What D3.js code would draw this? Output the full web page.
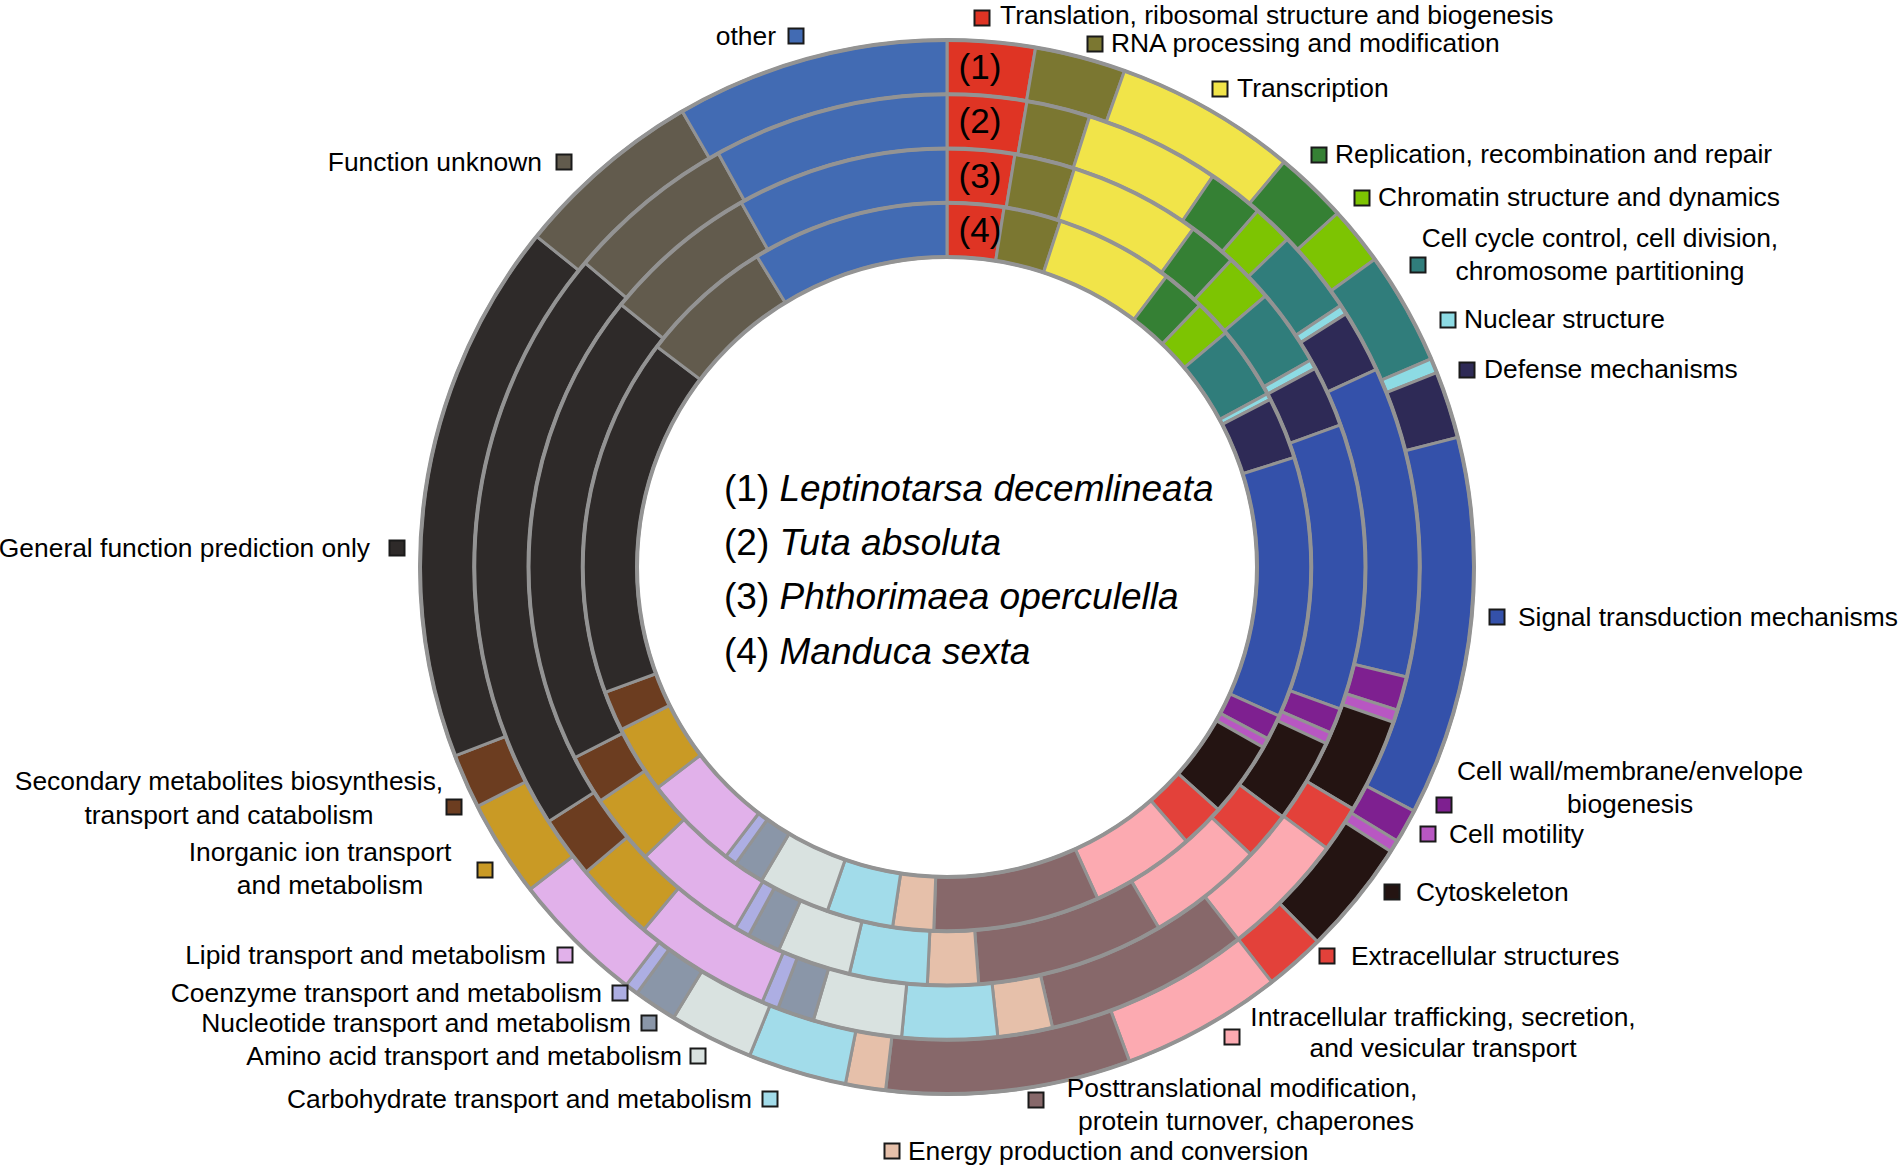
<!DOCTYPE html>
<html>
<head>
<meta charset="utf-8">
<script src="https://cdn.jsdelivr.net/npm/d3@7"></script>
<style>
  html, body { margin: 0; padding: 0; background: #ffffff; }
  svg { display: block; }
  text { font-family: "Liberation Sans", Arial, Helvetica, sans-serif; fill: #000; }
</style>
</head>
<body>
<svg id="chart" width="1898" height="1167"></svg>
<script>
// ---------------- DATA ----------------
const categories = [
  "Translation, ribosomal structure and biogenesis",
  "RNA processing and modification",
  "Transcription",
  "Replication, recombination and repair",
  "Chromatin structure and dynamics",
  "Cell cycle control, cell division, chromosome partitioning",
  "Nuclear structure",
  "Defense mechanisms",
  "Signal transduction mechanisms",
  "Cell wall/membrane/envelope biogenesis",
  "Cell motility",
  "Cytoskeleton",
  "Extracellular structures",
  "Intracellular trafficking, secretion, and vesicular transport",
  "Posttranslational modification, protein turnover, chaperones",
  "Energy production and conversion",
  "Carbohydrate transport and metabolism",
  "Amino acid transport and metabolism",
  "Nucleotide transport and metabolism",
  "Coenzyme transport and metabolism",
  "Lipid transport and metabolism",
  "Inorganic ion transport and metabolism",
  "Secondary metabolites biosynthesis, transport and catabolism",
  "General function prediction only",
  "Function unknown",
  "other"
];

const colors = [
  "#df3424", "#7b7731", "#f1e449", "#358034", "#7dc402", "#307d7b",
  "#8ddbe4", "#2e2a56", "#3451aa", "#7e2090", "#b857c2", "#241412",
  "#e3413a", "#fcaab1", "#87686a", "#e6c0aa", "#a2dcea", "#d9e2e0",
  "#8a96a8", "#adaee3", "#e1b1ea", "#c99a25", "#6c3d20", "#2e2a29",
  "#625b4d", "#426bb3"
];

const species = ["Leptinotarsa decemlineata", "Tuta absoluta", "Phthorimaea operculella", "Manduca sexta"];
const ringTags = ["(1)", "(2)", "(3)", "(4)"];

// percentage of annotated genes per COG category
const leptinotarsa = [2.69, 2.78, 5.58, 2.24, 1.79, 3.46, 0.45, 2.06, 11.62, 1.04, 0.37, 3.52, 1.84,
                      4.94, 7.49, 1.23, 3.02, 2.57, 1.33, 0.41, 4.11, 2.97, 1.67, 16.63, 5.83, 8.38];
const tuta         = [2.71, 2.17, 4.63, 1.91, 1.38, 2.87, 0.33, 2.14, 10.60, 1.16, 0.43, 3.23, 1.59,
                      4.29, 6.98, 1.87, 3.25, 3.03, 1.26, 0.57, 4.69, 2.75, 2.12, 20.17, 5.84, 8.04];
const phthorimaea  = [2.60, 2.33, 5.09, 1.87, 1.89, 2.99, 0.36, 2.36, 11.03, 0.98, 0.44, 3.25, 1.88,
                      4.49, 7.24, 1.96, 3.00, 2.84, 1.27, 0.58, 4.39, 2.73, 1.91, 18.33, 6.03, 8.18];
const manduca      = [2.51, 2.53, 5.26, 1.92, 1.66, 3.23, 0.28, 2.75, 11.58, 1.11, 0.43, 3.36, 1.97,
                      4.63, 7.37, 1.81, 2.94, 3.18, 1.34, 0.54, 4.24, 3.01, 1.77, 15.94, 5.92, 8.74];
const rings = [leptinotarsa, tuta, phthorimaea, manduca];

// ---------------- LAYOUT (annotation placement) ----------------
// [category index, square x, square y, anchor, [[line, x, baseline y], ...]]
const labelLayout = [
  [0, 982, 18, "start", [["Translation, ribosomal structure and biogenesis", 1000, 24]]],
  [1, 1095, 44, "start", [["RNA processing and modification", 1111, 52]]],
  [2, 1220, 89, "start", [["Transcription", 1237, 97]]],
  [3, 1319, 155, "start", [["Replication, recombination and repair", 1335, 163]]],
  [4, 1362, 198, "start", [["Chromatin structure and dynamics", 1378, 206]]],
  [5, 1418, 265, "middle", [["Cell cycle control, cell division,", 1600, 247], ["chromosome partitioning", 1600, 280]]],
  [6, 1448, 320, "start", [["Nuclear structure", 1464, 328]]],
  [7, 1467, 370, "start", [["Defense mechanisms", 1484, 378]]],
  [8, 1497, 617, "start", [["Signal transduction mechanisms", 1518, 626]]],
  [9, 1444, 805, "middle", [["Cell wall/membrane/envelope", 1630, 780], ["biogenesis", 1630, 813]]],
  [10, 1428, 834, "start", [["Cell motility", 1449, 843]]],
  [11, 1392, 892, "start", [["Cytoskeleton", 1416, 901]]],
  [12, 1327, 956, "start", [["Extracellular structures", 1351, 965]]],
  [13, 1232, 1037, "middle", [["Intracellular trafficking, secretion,", 1443, 1026], ["and vesicular transport", 1443, 1057]]],
  [14, 1036, 1100, "middle", [["Posttranslational modification,", 1242, 1097], ["protein turnover, chaperones", 1246, 1130]]],
  [15, 892, 1151, "start", [["Energy production and conversion", 908, 1160]]],
  [16, 770, 1099, "end", [["Carbohydrate transport and metabolism", 752, 1108]]],
  [17, 698, 1056, "end", [["Amino acid transport and metabolism", 682, 1065]]],
  [18, 649, 1023, "end", [["Nucleotide transport and metabolism", 631, 1032]]],
  [19, 620, 993, "end", [["Coenzyme transport and metabolism", 602, 1002]]],
  [20, 565, 955, "end", [["Lipid transport and metabolism", 546, 964]]],
  [21, 485, 870, "middle", [["Inorganic ion transport", 320, 861], ["and metabolism", 330, 894]]],
  [22, 454, 807, "middle", [["Secondary metabolites biosynthesis,", 229, 790], ["transport and catabolism", 229, 824]]],
  [23, 397, 548, "end", [["General function prediction only", 370, 557]]],
  [24, 564, 162, "end", [["Function unknown", 542, 171]]],
  [25, 796, 36, "end", [["other", 776, 45]]]
];

// ---------------- DRAW ----------------
const svg = d3.select("#chart");
const cx = 947, cy = 567;
const radius = d3.scaleLinear().domain([0, rings.length]).range([527, 310]);
const strokeCol = "#939393";

const g = svg.append("g").attr("transform", `translate(${cx},${cy})`);
const pie = d3.pie().sort(null).value(d => d);

rings.forEach((vals, i) => {
  const arc = d3.arc().innerRadius(radius(i + 1)).outerRadius(radius(i));
  g.append("g")
    .selectAll("path")
    .data(pie(vals))
    .join("path")
    .attr("d", arc)
    .attr("fill", (d, j) => colors[j])
    .attr("stroke", strokeCol)
    .attr("stroke-width", 3)
    .attr("stroke-linejoin", "miter");
});

// ring boundary circles
g.append("g")
  .selectAll("circle")
  .data(d3.range(rings.length + 1))
  .join("circle")
  .attr("r", d => radius(d))
  .attr("fill", "none")
  .attr("stroke", strokeCol)
  .attr("stroke-width", 4);

// ring tags (1)..(4)
g.append("g")
  .selectAll("text")
  .data(ringTags)
  .join("text")
  .attr("x", 33)
  .attr("y", (d, i) => -(radius(i) + radius(i + 1)) / 2 + 12)
  .attr("text-anchor", "middle")
  .attr("font-size", 35)
  .text(d => d);

// centre species legend
const legend = svg.append("g");
species.forEach((s, i) => {
  const t = legend.append("text")
    .attr("x", 724)
    .attr("y", 501 + i * 54.2)
    .attr("font-size", 37);
  t.append("tspan").text(ringTags[i] + " ");
  t.append("tspan").attr("font-style", "italic").text(s);
});

// outer category labels with colour squares
const lab = svg.append("g");
labelLayout.forEach(([ci, sx, sy, anchor, lines]) => {
  lab.append("rect")
    .attr("x", sx - 7.5).attr("y", sy - 7.5)
    .attr("width", 15).attr("height", 15)
    .attr("fill", colors[ci])
    .attr("stroke", "#1a1a1a")
    .attr("stroke-width", 2);
  lines.forEach(([txt, x, y]) => {
    lab.append("text")
      .attr("x", x).attr("y", y)
      .attr("text-anchor", anchor)
      .attr("font-size", 26.4)
      .text(txt);
  });
});
</script>
</body>
</html>
